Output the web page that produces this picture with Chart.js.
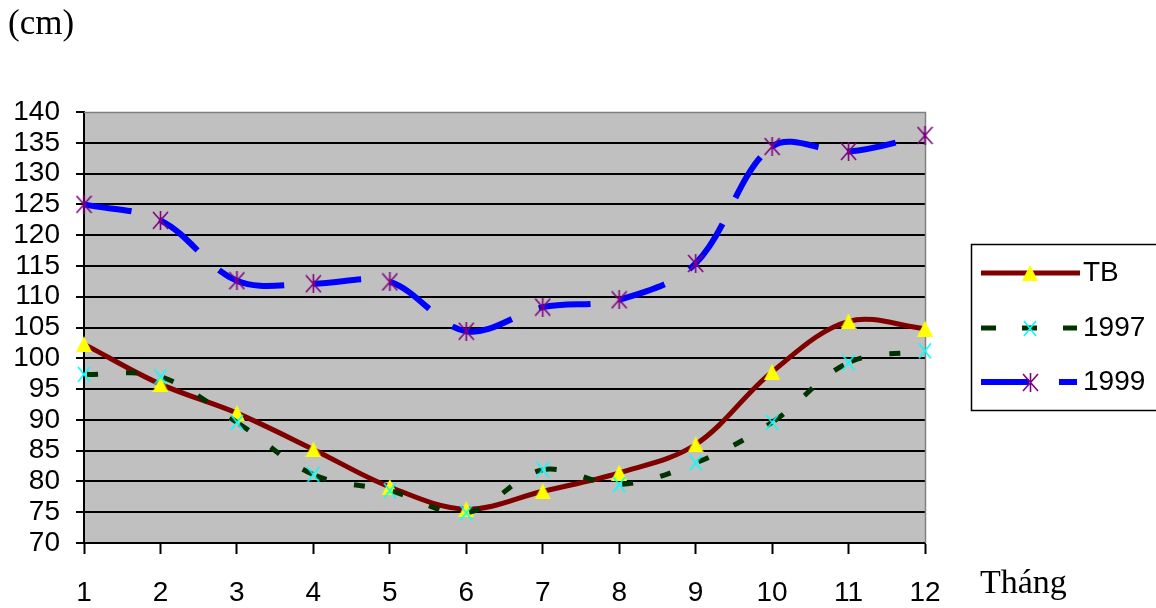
<!DOCTYPE html>
<html>
<head>
<meta charset="utf-8">
<script src="https://cdn.jsdelivr.net/npm/chart.js@4/dist/chart.umd.min.js"></script>
<style>
  html, body { margin: 0; padding: 0; background: #fff; }
  #wrap { width: 1156px; height: 608px; }
</style>
</head>
<body>
<div id="wrap"><canvas id="c" width="1156" height="608"></canvas></div>
<script>
// Monthly water level (cm): long-term mean and two years
const months = [1, 2, 3, 4, 5, 6, 7, 8, 9, 10, 11, 12];
const seriesNames = ['TB', '1997', '1999'];
const tbValues = [102.3, 95.8, 91.1, 85.2, 79.1, 75.5, 78.4, 81.4, 86.0, 97.8, 106.0, 104.8];
const values1997 = [97.4, 97.0, 89.6, 81.1, 78.5, 74.9, 81.9, 79.5, 83.0, 89.6, 99.3, 101.2];
const values1999 = [125.0, 122.4, 112.6, 112.1, 112.4, 104.4, 108.3, 109.5, 115.4, 134.4, 133.6, 136.2];
const yMin = 70, yMax = 140, yStep = 5;
const unitLabel = '(cm)';
const xAxisLabel = 'Tháng';

// pick a narrow sans if the system has one
function hasFont(name) {
  const g = document.createElement('canvas').getContext('2d');
  g.font = '40px monospace';
  const a = g.measureText('1999 TB 140').width;
  g.font = '40px "' + name + '", monospace';
  const b = g.measureText('1999 TB 140').width;
  return Math.abs(a - b) > 0.5;
}
const narrow = hasFont('Liberation Sans Narrow');
const sansFamily = narrow ? '"Liberation Sans Narrow", "Liberation Sans", Arial, sans-serif'
                          : '"Liberation Sans", Arial, sans-serif';
const sansSize = narrow ? 31 : 28;
const serifFamily = '"Liberation Serif", "Times New Roman", serif';

// marker sprites
function markerImage(kind, color, w, h) {
  const c = document.createElement('canvas');
  c.width = w; c.height = h;
  const g = c.getContext('2d');
  g.fillStyle = color; g.strokeStyle = color; g.lineWidth = 1.6; g.lineCap = 'butt';
  if (kind === 'triangle') {
    g.beginPath();
    g.moveTo(w / 2, 0);
    g.lineTo(w, h);
    g.lineTo(0, h);
    g.closePath();
    g.fill();
  } else {
    g.beginPath();
    g.moveTo(1, 1); g.lineTo(w - 1, h - 1);
    g.moveTo(w - 1, 1); g.lineTo(1, h - 1);
    if (kind === 'asterisk') { g.moveTo(w / 2, 0); g.lineTo(w / 2, h); }
    g.stroke();
  }
  return c;
}
const triImg = markerImage('triangle', '#ffff00', 16, 16);
const crossImg = markerImage('cross', '#00ffff', 14, 17);
const starImg = markerImage('asterisk', '#800080', 17, 19);

// restart the dash pattern at every data point
const resetDash = base => ({ borderDashOffset: c => (c.p0DataIndex % 2 ? base + 0.001 : base) });

const decor = {
  id: 'decor',
  beforeDraw(chart) {
    const { ctx, chartArea: a } = chart;
    ctx.save();
    ctx.fillStyle = '#fff';
    ctx.fillRect(0, 0, chart.width, chart.height);
    ctx.fillStyle = '#c0c0c0';
    ctx.fillRect(a.left, a.top, a.right - a.left, a.bottom - a.top);
    ctx.restore();
  },
  beforeDatasetsDraw(chart) {
    const { ctx, chartArea: a } = chart;
    ctx.save();
    ctx.strokeStyle = '#808080';
    ctx.lineWidth = 1.5;
    ctx.beginPath();
    ctx.moveTo(a.left, a.top + 0.5);
    ctx.lineTo(a.right + 0.5, a.top + 0.5);
    ctx.lineTo(a.right + 0.5, a.bottom);
    ctx.stroke();
    ctx.restore();
  },
  afterDraw(chart) {
    const ctx = chart.ctx;
    ctx.save();
    // unit and axis captions
    ctx.fillStyle = '#000';
    ctx.textBaseline = 'alphabetic';
    ctx.textAlign = 'left';
    ctx.font = '35px ' + serifFamily;
    ctx.fillText(unitLabel, 8, 34);
    ctx.font = '34px ' + serifFamily;
    ctx.fillText(xAxisLabel, 980, 593);

    // legend box
    ctx.strokeStyle = '#000';
    ctx.lineWidth = 1.5;
    ctx.strokeRect(971.5, 244.5, 200, 166);

    const rows = [
      { y: 273, dash: [], img: triImg },
      { y: 328, dash: [15, 26], img: crossImg },
      { y: 382, dash: [48, 30], img: starImg }
    ];
    chart.data.datasets.forEach((ds, i) => {
      const r = rows[i];
      ctx.save();
      ctx.strokeStyle = ds.borderColor;
      ctx.lineWidth = ds.borderWidth;
      ctx.lineCap = 'butt';
      ctx.setLineDash(r.dash);
      ctx.beginPath();
      ctx.moveTo(981, r.y);
      ctx.lineTo(i === 0 ? 1080 : 1077, r.y);
      ctx.stroke();
      ctx.restore();
      ctx.drawImage(r.img, Math.round(1030 - r.img.width / 2), Math.round(r.y - r.img.height / 2));
      ctx.fillStyle = '#000';
      ctx.font = sansSize + 'px ' + sansFamily;
      ctx.textBaseline = 'middle';
      ctx.fillText(ds.label, 1083, r.y);
    });
    ctx.restore();
  }
};

new Chart(document.getElementById('c'), {
  type: 'line',
  data: {
    labels: months,
    datasets: [
      {
        label: seriesNames[0], data: tbValues,
        borderColor: '#800000', borderWidth: 5, tension: 0.35,
        borderCapStyle: 'butt', borderJoinStyle: 'round',
        pointStyle: triImg, pointRadius: 8, order: 3, clip: false
      },
      {
        label: seriesNames[1], data: values1997,
        borderColor: '#003300', borderWidth: 5, tension: 0.35,
        borderDash: [11, 28], segment: resetDash(36),
        borderCapStyle: 'butt',
        pointStyle: crossImg, pointRadius: 8, order: 2, clip: false
      },
      {
        label: seriesNames[2], data: values1999,
        borderColor: '#0000ff', borderWidth: 6, tension: 0.35,
        borderDash: [48, 29], segment: resetDash(0),
        borderCapStyle: 'butt',
        pointStyle: starImg, pointRadius: 9, order: 1, clip: false
      }
    ]
  },
  options: {
    responsive: false,
    animation: false,
    devicePixelRatio: 1,
    events: [],
    layout: { padding: { top: 112, right: 231, left: 0, bottom: 0 } },
    plugins: {
      legend: { display: false },
      tooltip: { enabled: false },
      title: { display: false }
    },
    scales: {
      x: {
        type: 'category',
        offset: false,
        grid: { drawOnChartArea: false, drawTicks: true, tickLength: 11, tickColor: '#000', tickWidth: 2 },
        border: { display: true, color: '#000', width: 2 },
        ticks: { color: '#000', font: { family: sansFamily, size: sansSize, lineHeight: 1.2 }, padding: 22, maxRotation: 0, autoSkip: false },
        afterFit(s) { s.height = 65; }
      },
      y: {
        min: yMin, max: yMax,
        grid: {
          color: c => (c.tick && c.tick.value === yMax ? 'rgba(0,0,0,0)' : '#000'),
          lineWidth: 2, tickLength: 8, tickColor: '#000', tickWidth: 2
        },
        border: { display: true, color: '#000', width: 2 },
        ticks: { stepSize: yStep, autoSkip: false, color: '#000', font: { family: sansFamily, size: sansSize, lineHeight: 1 }, padding: 16 },
        afterFit(s) { s.width = 84; }
      }
    }
  },
  plugins: [decor]
});
</script>
</body>
</html>
